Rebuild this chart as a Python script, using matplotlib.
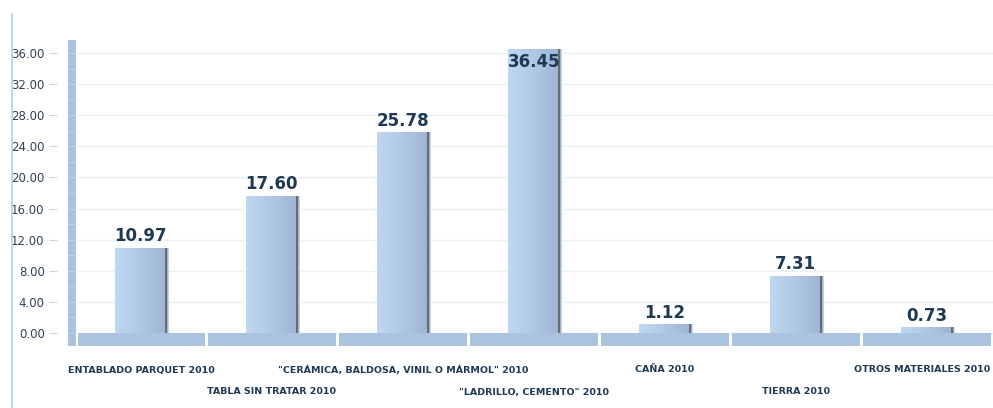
import numpy as np
import matplotlib
matplotlib.use("Agg")
import matplotlib.pyplot as plt
from matplotlib.patches import Rectangle
from matplotlib.lines import Line2D
from matplotlib.colors import LinearSegmentedColormap

# Floor material shares (%)
categories = [
    "ENTABLADO PARQUET 2010",
    "TABLA SIN TRATAR 2010",
    "\"CERÁMICA, BALDOSA, VINIL O MÁRMOL\" 2010",
    "\"LADRILLO, CEMENTO\" 2010",
    "CAÑA 2010",
    "TIERRA 2010",
    "OTROS MATERIALES 2010",
]
values = [10.97, 17.60, 25.78, 36.45, 1.12, 7.31, 0.73]
yticks = [0, 4, 8, 12, 16, 20, 24, 28, 32, 36]

W, H = 993, 408
fig = plt.figure(figsize=(W / 100, H / 100), dpi=100)
fig.patch.set_facecolor("white")

# axes spanning the plot area (pixel geometry converted to fractions)
left_px, right_px, top_px, bottom_px = 78, 993, 40, 346
ax = fig.add_axes([left_px / W, (H - bottom_px) / H,
                   (right_px - left_px) / W, (bottom_px - top_px) / H])

px_per_unit = (333 - 53) / 36.0
ymin = -(bottom_px - 333) / px_per_unit
ymax = (333 - top_px) / px_per_unit
xlim = (-0.48, -0.48 + (right_px - left_px) / 131.0)
unit_px = 131.0  # pixels per category

for s in ax.spines.values():
    s.set_visible(False)
ax.spines["left"].set_position(("outward", 15))

text_col = "#1d3a55"
ax.set_yticks(yticks)
ax.set_yticklabels([f"{v:.2f}" for v in yticks], fontsize=8.5,
                   color="#2f4356", family="DejaVu Sans")
ax.tick_params(axis="y", length=6, width=0.8, color="#c8d4df", pad=3)
ax.set_xticks([])
ax.yaxis.grid(True, color="#e9f1f9", linewidth=1.0)
ax.set_axisbelow(True)

# left wall strip
aw = right_px - left_px
ax.add_patch(Rectangle((-10 / aw, 0.0), 8 / aw, 1.0,
                       transform=ax.transAxes, clip_on=False,
                       facecolor="#a9c2dd", edgecolor="none", zorder=1))
for v in np.arange(0, 37, 2):
    ax.plot([-10 / aw, -2 / aw], [v, v],
            transform=ax.get_yaxis_transform(), clip_on=False,
            color="#c4d6e8", lw=0.6, zorder=1.5)

# floor segments under each category
x = np.arange(len(categories))
gap = 0.012
for xi in x:
    ax.add_patch(Rectangle((xi - 0.5 + gap, ymin), 1 - 2 * gap, -ymin,
                           facecolor="#abc3de", edgecolor="none", zorder=2))

# bars with horizontal gradient and a dark right edge
grad_cmap = LinearSegmentedColormap.from_list(
    "bar", ["#bfd7ef", "#b5cde8", "#a9c1dd", "#9cb4d1"])
grad = np.linspace(0, 1, 256).reshape(1, -1)
bw = 0.40
bars = ax.bar(x, values, width=bw, color="#b3cbe5", edgecolor="none", zorder=3)
for b in bars:
    bx, by, bwid, bh = b.get_x(), b.get_y(), b.get_width(), b.get_height()
    im = ax.imshow(grad, cmap=grad_cmap, aspect="auto", zorder=3.5,
                   extent=[bx, bx + bwid, by, by + bh],
                   interpolation="bilinear")
    im.set_clip_path(b)
    # dark right edge and soft shadow beside it
    ax.add_patch(Rectangle((bx + bwid - 2 / unit_px, by), 2 / unit_px, bh,
                           facecolor="#656c74", edgecolor="none", zorder=3.6))
    ax.add_patch(Rectangle((bx + bwid, by), 2 / unit_px, bh,
                           facecolor="#cfd4d9", edgecolor="none", zorder=3))

ax.set_xlim(*xlim)
ax.set_ylim(ymin, ymax)

# value labels
for xi, v in zip(x, values):
    if v + 3.0 > ymax:
        ax.text(xi, v - 0.5, f"{v:.2f}", ha="center", va="top",
                fontsize=12, fontweight="bold", color=text_col, zorder=5)
    else:
        ax.text(xi, v + 0.35, f"{v:.2f}", ha="center", va="bottom",
                fontsize=12, fontweight="bold", color=text_col, zorder=5)

# staggered category labels (the last one is right-aligned to stay inside)
for i, (xi, lab) in enumerate(zip(x, categories)):
    ypix = 370 if i % 2 == 0 else 392
    yfrac = 1 - (ypix - top_px) / (bottom_px - top_px)
    if i == len(categories) - 1:
        ax.text(xlim[1] - 3 / unit_px, yfrac, lab,
                transform=ax.get_xaxis_transform(), ha="right", va="center",
                fontsize=6.8, fontweight="bold", color=text_col, clip_on=False)
    else:
        ax.text(xi, yfrac, lab,
                transform=ax.get_xaxis_transform(), ha="center", va="center",
                fontsize=6.8, fontweight="bold", color=text_col, clip_on=False)

# thin vertical rule at the far left
fig.add_artist(Line2D([12 / W, 12 / W], [0, (H - 14) / H],
                      color="#b5cfe4", lw=1.2))

fig.savefig("out.png", dpi=100)
